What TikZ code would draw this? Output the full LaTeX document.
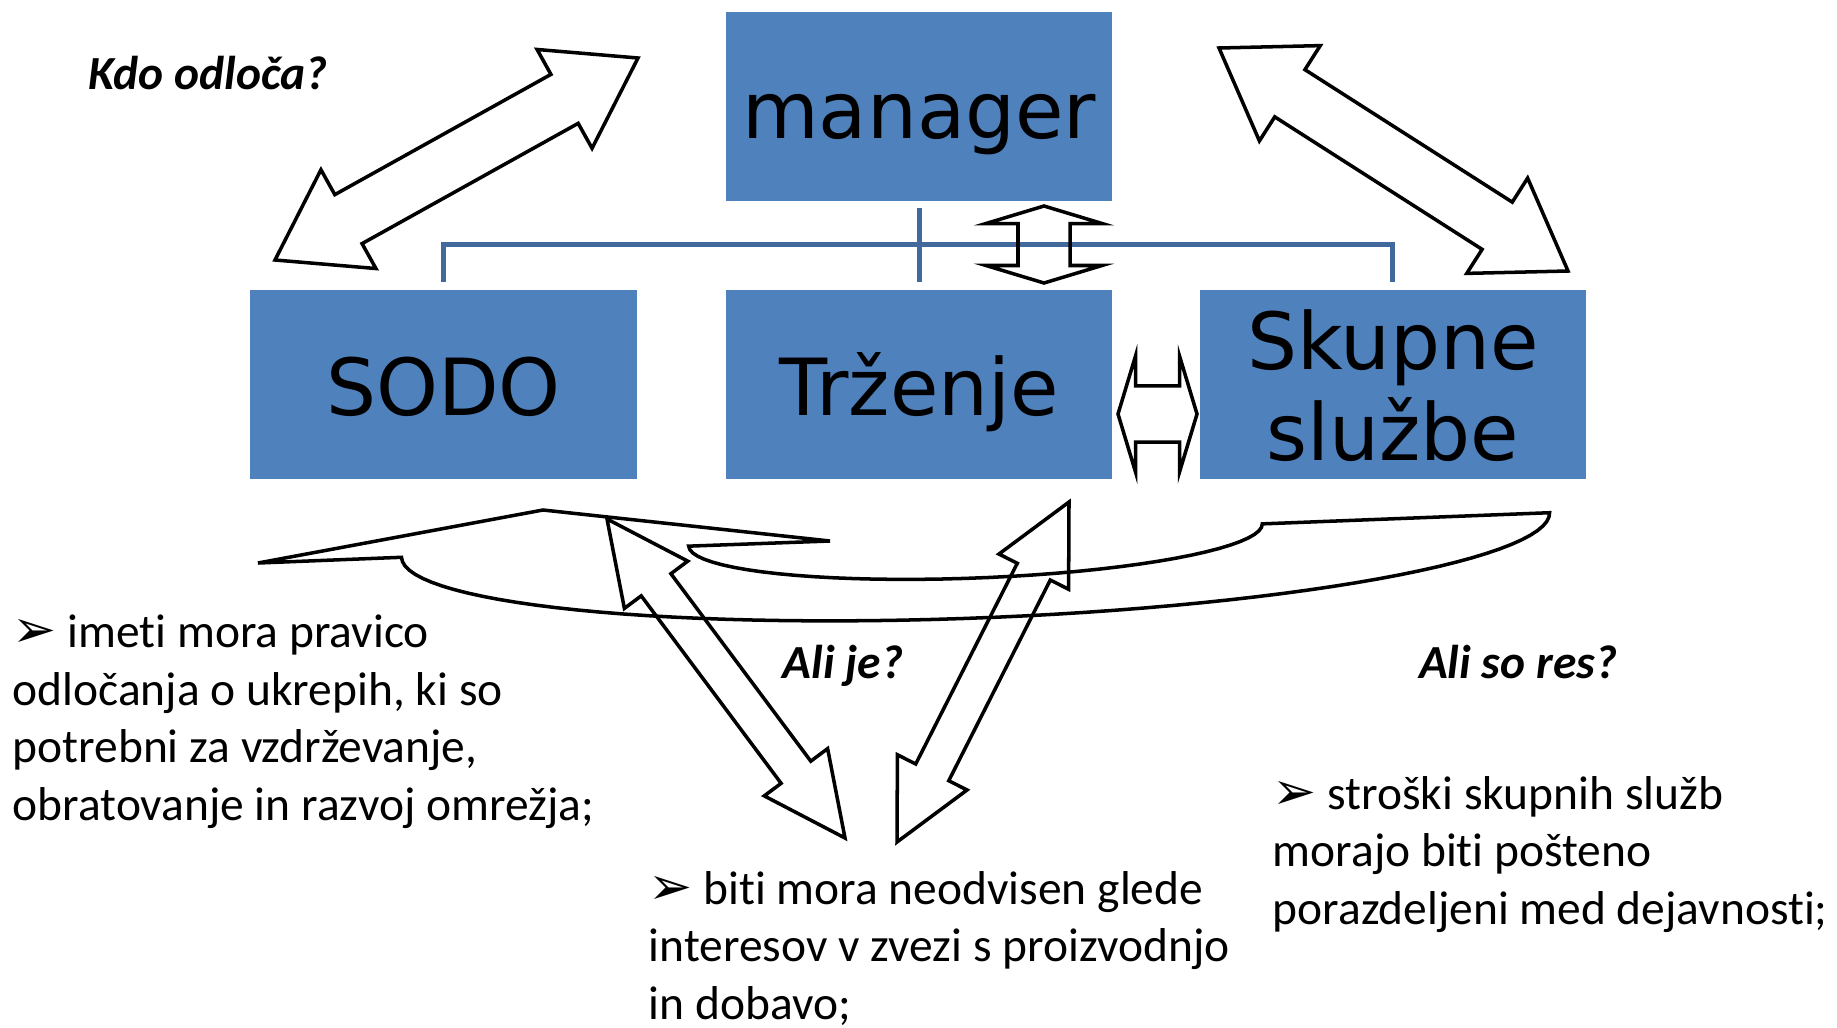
\documentclass[tikz,border=0pt]{standalone}
\usepackage{fontspec}
\setmainfont[RawFeature={-liga;-clig;-calt;-dlig}]{Carlito}
\newfontfamily\boxfont{DejaVu Sans}
\newfontfamily\arrowfont{DejaVu Sans}
\usepackage{tikz}
\usetikzlibrary{
  positioning,
  calc
}
\definecolor{boxBlue}{HTML}{4F81BD}
\definecolor{lineBlue}{HTML}{41699C}
\tikzstyle{box}=[fill=boxBlue, minimum width=3.86cm, minimum height=1.89cm, inner sep=0pt, align=center, font=\boxfont\fontsize{22.4pt}{25.8pt}\selectfont, text height=22.4pt, text depth=4.7pt]
\tikzstyle{orgline}=[lineBlue, line width=1.4pt]
\tikzstyle{blockarrow}=[line width=1pt, line join=miter]
\tikzstyle{question}=[inner sep=0pt, font=\bfseries\itshape\fontsize{13.5pt}{16.35pt}\selectfont]
\tikzstyle{note}=[inner sep=0pt, align=left, font=\fontsize{13.5pt}{16.35pt}\selectfont]
\newcommand{\pointer}{{\arrowfont\fontsize{15pt}{15pt}\selectfont ➢}}

\begin{document}
\begin{tikzpicture}[x=0.01cm, y=-0.01cm]
      % 両矢印: 端点1, 端点2, 矢じりの長さ, 矢じりの半幅, 軸の半幅
      \def\dblarrow#1#2#3#4#5{
        \draw[blockarrow] (#1)
          -- ($(#1)!#3!(#2)!#4!90:(#2)$) -- ($(#1)!#3!(#2)!#5!90:(#2)$)
          -- ($(#2)!#3!(#1)!#5!-90:(#1)$) -- ($(#2)!#3!(#1)!#4!-90:(#1)$)
          -- (#2)
          -- ($(#2)!#3!(#1)!#4!90:(#1)$) -- ($(#2)!#3!(#1)!#5!90:(#1)$)
          -- ($(#1)!#3!(#2)!#5!-90:(#2)$) -- ($(#1)!#3!(#2)!#4!-90:(#2)$)
          -- cycle;
      }
      % 曲がった矢印の楕円
      \def\ellx#1#2#3{975.5 + #1*0.9992*cos(#3) + #2*0.0388*sin(#3)}
      \def\elly#1#2#3{535 - #1*0.0388*cos(#3) + #2*0.9992*sin(#3)}

      \useasboundingbox (0,0) rectangle (1837,1027);

      % 箱
      \node (sodo) at (443.5,384.5) [box]{SODO};
      \node (trzenje) [box, right=0.88cm of sodo]{Trženje};
      \node (skupne) [box, right=0.86cm of trzenje, text height=48pt]{Skupne\\službe};
      \node (manager) [box, above=0.87cm of trzenje]{manager};

      % 組織の線
      \draw[orgline] ($(sodo.north)+(0,-7)$) |- ($(skupne.north)+(0,-45)$) -- ($(skupne.north)+(0,-7)$);
      \draw[orgline] ($(manager.south)+(0,6)$) -- ($(trzenje.north)+(0,-7)$);

      % 矢印の端点
      \coordinate (TL1) at (275,260);
      \coordinate (TL2) at (638,58);
      \coordinate (TR1) at (1219,48);
      \coordinate (TR2) at (1568,271);
      \coordinate (UD1) at (1044,206);
      \coordinate (UD2) at (1044,283);
      \coordinate (LR1) at (1118,414);
      \coordinate (LR2) at (1197,414);
      \coordinate (BL1) at (607,519);
      \coordinate (BL2) at (845,838);
      \coordinate (BR1) at (1069,502);
      \coordinate (BR2) at (897,842);

      % 両矢印
      \dblarrow{TL1}{TL2}{0.84cm}{0.565cm}{0.28cm}
      \dblarrow{TR1}{TR2}{0.84cm}{0.565cm}{0.28cm}
      \dblarrow{UD1}{UD2}{0.175cm}{0.58cm}{0.26cm}
      \dblarrow{LR1}{LR2}{0.175cm}{0.58cm}{0.28cm}
      \dblarrow{BL1}{BL2}{0.82cm}{0.395cm}{0.185cm}
      \dblarrow{BR1}{BR2}{0.78cm}{0.39cm}{0.185cm}

      % 曲がった矢印
      \coordinate (CA1) at (258,563);
      \coordinate (CA2) at (543,510);
      \coordinate (CA3) at (830,541);
      \draw[blockarrow] plot[domain=0:180, samples=60, variable=\t] ({\ellx{574.5}{83}{\t}}, {\elly{574.5}{83}{\t}})
        -- (CA1) -- (CA2) -- (CA3)
        -- plot[domain=180:0, samples=40, variable=\t] ({\ellx{287}{43}{\t}}, {\elly{287}{43}{\t}}) -- cycle;

      % 問い
      \node (kdo) at (88,89) [question, anchor=base west]{Kdo odloča?};
      \node (alije) at (843,678) [question, anchor=base]{Ali je?};
      \node (aliso) at (1518,678) [question, anchor=base]{Ali so res?};

      % 説明文 (基準は最後の行)
      \node (sodoNote) at (12,820) [note, anchor=base west]{\pointer\ imeti mora pravico\\odločanja o ukrepih, ki so\\potrebni za vzdrževanje,\\obratovanje in razvoj omrežja;};
      \node (trzenjeNote) at (648,1019) [note, anchor=base west]{\pointer\ biti mora neodvisen glede\\interesov v zvezi s proizvodnjo\\in dobavo;};
      \node (skupneNote) at (1272,924) [note, anchor=base west]{\pointer\ stroški skupnih služb\\morajo biti pošteno\\porazdeljeni med dejavnosti;};
    \end{tikzpicture}
\end{document}
